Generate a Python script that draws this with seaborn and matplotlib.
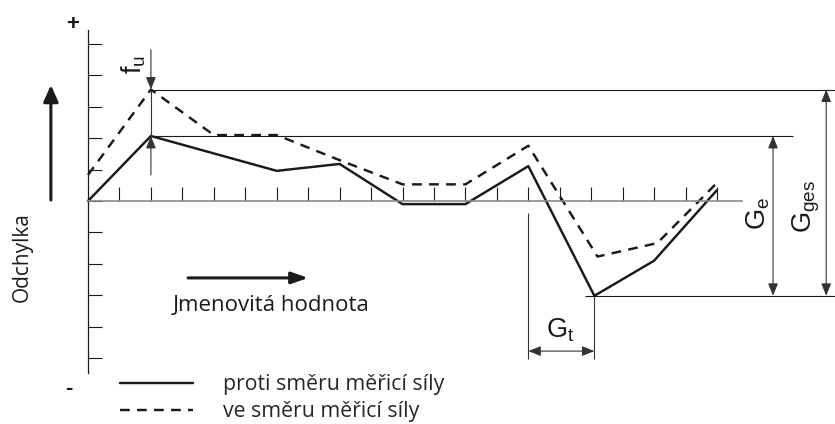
import matplotlib
matplotlib.use("Agg")
import matplotlib.pyplot as plt
import pandas as pd
import seaborn as sns

# Deviation curves over the nominal value (both axes in tick units)
solid_x = [0, 2, 6, 8, 10, 12, 14, 16.1, 18, 20]
solid_y = [0, 2.07, 0.96, 1.18, -0.1, -0.1, 1.11, -3.02, -1.9, 0.35]
dashed_x = [0, 2, 4, 6, 8, 10, 12, 14, 16.2, 18.1, 20]
dashed_y = [0.83, 3.55, 2.1, 2.1, 1.3, 0.53, 0.53, 1.76, -1.77, -1.34, 0.58]

label_solid = "proti směru měřicí síly"
label_dashed = "ve směru měřicí síly"
series_order = [label_solid, label_dashed]

x_ticks = list(range(1, 21))
y_ticks = list(range(-5, 6))

df = pd.concat([
    pd.DataFrame({"x": solid_x, "y": solid_y, "series": label_solid}),
    pd.DataFrame({"x": dashed_x, "y": dashed_y, "series": label_dashed}),
], ignore_index=True)

sns.set_style("white")
plt.rcParams["font.family"] = ["Open Sans", "DejaVu Sans"]
plt.rcParams["mathtext.fontset"] = "custom"
plt.rcParams["mathtext.rm"] = "Liberation Sans"
plt.rcParams["mathtext.it"] = "Liberation Sans"

INK = "#1a1a1a"
THIN = "#333333"

fig = plt.figure(figsize=(8.35, 4.24), dpi=100)
ax = fig.add_axes([0, 0, 1, 1])
ax.set_xlim(-2.798, 23.75)
ax.set_ylim(-7.102, 6.401)

sns.lineplot(data=df, x="x", y="y", style="series", style_order=series_order,
             dashes={label_solid: "", label_dashed: (4, 3)},
             color=INK, linewidth=1.75, sort=False, estimator=None, ax=ax)

# axes through the origin
for side in ("top", "right"):
    ax.spines[side].set_visible(False)
ax.spines["left"].set_position(("data", 0))
ax.spines["left"].set_bounds(-5.48, 5.45)
ax.spines["left"].set_color(INK)
ax.spines["left"].set_linewidth(0.9)
ax.spines["bottom"].set_position(("data", 0))
ax.spines["bottom"].set_bounds(0, 20.8)
ax.spines["bottom"].set_color("#8a8a8a")
ax.spines["bottom"].set_linewidth(1.2)
ax.set_xticks(x_ticks)
ax.set_yticks(y_ticks)
ax.set_xticklabels([])
ax.set_yticklabels([])
ax.tick_params(axis="both", direction="in", length=10, width=0.8, color=INK,
               bottom=True, left=True, top=False, right=False)
ax.set_xlabel("")
ax.set_ylabel("")

# characteristic levels of the curves
i_top = dashed_y.index(max(dashed_y))
i_peak = solid_y.index(max(solid_y))
i_low = solid_y.index(min(solid_y))
y_top, y_peak, y_low = dashed_y[i_top], solid_y[i_peak], solid_y[i_low]
x_top, x_peak, x_low = dashed_x[i_top], solid_x[i_peak], solid_x[i_low]

ax.hlines(y_top, x_top, 23.75, color=INK, lw=0.8)
ax.hlines(y_peak, x_peak, 22.42, color=INK, lw=0.8)
ax.hlines(y_low, 15.8, 23.75, color=INK, lw=0.8)

thin_head = dict(arrowstyle="-|>,head_length=0.75,head_width=0.3",
                 color=THIN, lw=0.8, shrinkA=0, shrinkB=0, mutation_scale=10)
both_head = dict(arrowstyle="<|-|>,head_length=0.75,head_width=0.3",
                 color=THIN, lw=0.8, shrinkA=0, shrinkB=0, mutation_scale=10)

# f_u: reversal error at the first peak
ax.annotate("", xy=(x_top, y_top), xytext=(x_top, 4.81), arrowprops=thin_head)
ax.annotate("", xy=(x_peak, y_peak), xytext=(x_peak, 0.83), arrowprops=thin_head)
ax.vlines(x_peak, y_peak, y_top, color=THIN, lw=0.8)
ax.text(1.47, 4.36, r"$\mathrm{f_u}$", rotation=90, ha="center", va="center",
        fontsize=19.5, color=INK)

# G_e and G_ges spans
ax.annotate("", xy=(21.78, y_peak), xytext=(21.78, y_low), arrowprops=both_head)
ax.annotate("", xy=(23.47, y_top), xytext=(23.47, y_low), arrowprops=both_head)
ax.text(21.32, -0.41, r"$\mathrm{G_e}$", rotation=90, ha="center", va="center",
        fontsize=19.5, color=INK)
ax.text(22.83, -0.16, r"$\mathrm{G_{ges}}$", rotation=90, ha="center", va="center",
        fontsize=19.5, color=INK)

# G_t span
ax.vlines(14, -5.03, -0.38, color=THIN, lw=0.8)
ax.vlines(x_low, -5.03, y_low, color=THIN, lw=0.8)
ax.annotate("", xy=(14, -4.78), xytext=(x_low, -4.78), arrowprops=both_head)
ax.text(15.0, -4.36, r"$\mathrm{G_t}$", ha="center", va="baseline",
        fontsize=19.5, color=INK)

# axis direction arrows and labels
ax.annotate("", xy=(-1.18, 3.69), xytext=(-1.18, 0.03),
            arrowprops=dict(arrowstyle="-|>,head_length=1.0,head_width=0.45",
                            color=INK, lw=2.2, shrinkA=0, shrinkB=0,
                            mutation_scale=10))
ax.annotate("", xy=(7.0, -2.45), xytext=(3.18, -2.45),
            arrowprops=dict(arrowstyle="-|>,head_length=1.0,head_width=0.35",
                            color=INK, lw=2.2, shrinkA=0, shrinkB=0,
                            mutation_scale=10))
ax.text(-2.1, -1.77, "Odchylka", rotation=90, ha="center", va="center",
        fontsize=15, color=INK)
ax.text(2.70, -3.50, "Jmenovitá hodnota", ha="left", va="baseline",
        fontsize=16, color=INK)
ax.text(-0.48, 5.63, "+", ha="center", va="center", fontsize=16,
        fontweight="bold", color=INK, family="Liberation Sans")
ax.text(-0.62, -5.96, "-", ha="center", va="center", fontsize=16,
        fontweight="bold", color=INK, family="Liberation Sans")

sns.move_legend(ax, "upper left", bbox_to_anchor=(0.1437, 0.1170), frameon=False,
                title=None, fontsize=15.3, handlelength=3.45, handletextpad=1.4,
                labelspacing=0.28, borderpad=0, borderaxespad=0)

fig.savefig("out.png", dpi=100)
